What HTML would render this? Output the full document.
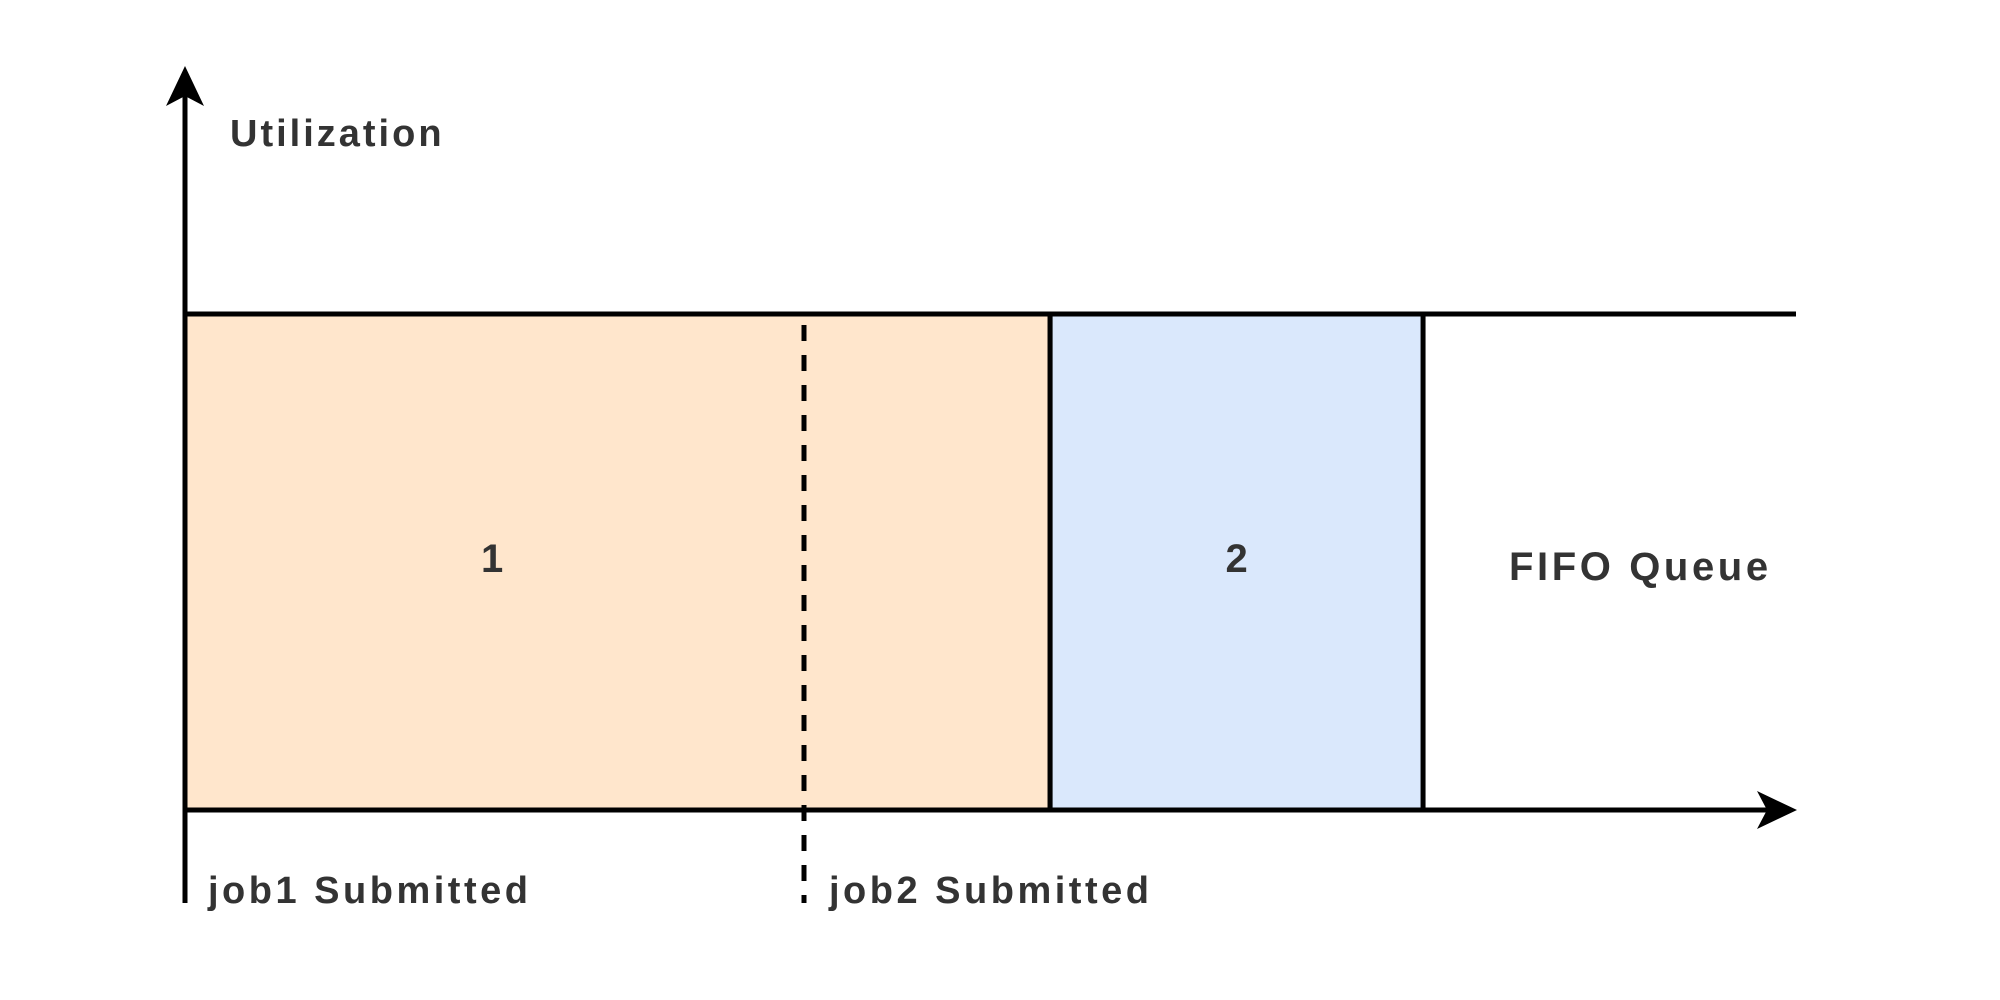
<!DOCTYPE html>
<html>
<head>
<meta charset="utf-8">
<style>
  html,body{margin:0;padding:0;background:#fff;}
  svg{display:block;}
  text{font-family:"Liberation Sans",sans-serif;font-weight:bold;fill:#333;}
</style>
</head>
<body>
<svg id="chart" width="2000" height="1000" viewBox="0 0 2000 1000">
  <rect width="2000" height="1000" fill="#fff"/>
  <g id="marks"></g>
  <line x1="185" y1="903" x2="185" y2="90" stroke="#000" stroke-width="5"/>
  <polygon points="185,66 166,106 185,96 204,106" fill="#000"/>
  <line x1="185" y1="810" x2="1775" y2="810" stroke="#000" stroke-width="5"/>
  <polygon points="1797,810 1757,791 1767,810 1757,829" fill="#000"/>
  <line x1="185" y1="314" x2="1796" y2="314" stroke="#000" stroke-width="5"/>
  <line x1="804" y1="325" x2="804" y2="903" stroke="#000" stroke-width="5" stroke-dasharray="16,14"/>
  <text x="230" y="146" font-size="38" letter-spacing="3">Utilization</text>
  <text x="1509" y="580" font-size="40" letter-spacing="3.6">FIFO Queue</text>
  <text x="208" y="903" font-size="38" letter-spacing="3.5">job1 Submitted</text>
  <text x="829" y="903" font-size="38" letter-spacing="3.5">job2 Submitted</text>
</svg>
<script>
const jobs = ["1", "2"];
const jobStart = [0, 53.7];
const jobEnd = [53.7, 76.85];
const jobUtil = [100, 100];
const jobColors = ["#ffe6cc", "#dae8fc"];
const labelFrac = [0.355, 0.5];

const X0 = 185, X1 = 1796, Y0 = 810, Y1 = 314;
function xs(v){ return X0 + (X1 - X0) * v / 100; }
function ys(v){ return Y0 - (Y0 - Y1) * v / 100; }

const g = document.getElementById('marks');
const NS = "http://www.w3.org/2000/svg";
jobs.forEach((j, i) => {
  const r = document.createElementNS(NS, 'rect');
  r.setAttribute('x', xs(jobStart[i]));
  r.setAttribute('y', ys(jobUtil[i]));
  r.setAttribute('width', xs(jobEnd[i]) - xs(jobStart[i]));
  r.setAttribute('height', ys(0) - ys(jobUtil[i]));
  r.setAttribute('fill', jobColors[i]);
  r.setAttribute('stroke', '#000');
  r.setAttribute('stroke-width', '5');
  
  
  g.appendChild(r);
  const t = document.createElementNS(NS, 'text');
  t.setAttribute('x', xs(jobStart[i]) + (xs(jobEnd[i]) - xs(jobStart[i])) * labelFrac[i]);
  t.setAttribute('y', (ys(jobUtil[i]) + ys(0)) / 2 + 10);
  t.setAttribute('text-anchor', 'middle');
  t.setAttribute('font-size', '40');
  t.textContent = j;
  
  
  g.appendChild(t);
});
</script>
</body>
</html>
